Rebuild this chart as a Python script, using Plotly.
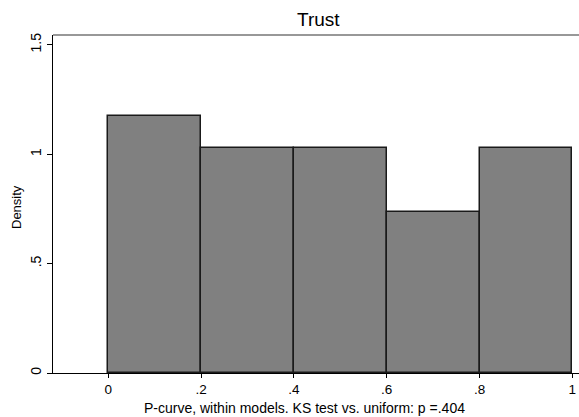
import plotly.graph_objects as go

bin_left = [0.0, 0.2, 0.4, 0.6, 0.8]
bin_width = 0.2
density = [1.176, 1.029, 1.029, 0.735, 1.029]
x_tickvals = [0, 0.2, 0.4, 0.6, 0.8, 1]
x_ticktext = ["0", ".2", ".4", ".6", ".8", "1"]
y_tickvals = [0, 0.5, 1, 1.5]
y_ticktext = ["0", ".5", "1", "1.5"]

fig = go.Figure()
fig.add_trace(go.Bar(
    x=[b + bin_width / 2 for b in bin_left],
    y=density,
    width=[bin_width] * len(bin_left),
    marker=dict(color="#808080", line=dict(color="#1a1a1a", width=1.5)),
    showlegend=False,
))

font = "Liberation Sans, Arial, sans-serif"
fig.update_layout(
    width=579, height=417,
    margin=dict(l=53, r=0, t=35, b=44),
    paper_bgcolor="white", plot_bgcolor="white",
    font=dict(family=font, color="black", size=14),
    bargap=0,
    xaxis=dict(range=[-0.1192, 1.0144], tickvals=x_tickvals, ticktext=x_ticktext,
               ticks="outside", ticklen=4, tickwidth=1, tickcolor="black",
               showline=True, linecolor="black", linewidth=1.2,
               showgrid=False, zeroline=False, tickfont=dict(size=13.5)),
    yaxis=dict(range=[0, 1.545], tickvals=y_tickvals, ticktext=y_ticktext,
               ticks="outside", ticklen=5, tickwidth=1, tickcolor="black",
               showline=True, linecolor="black", linewidth=1.2,
               showgrid=False, zeroline=False, tickangle=-90, tickfont=dict(size=14)),
    shapes=[dict(type="line", xref="paper", yref="paper", x0=0, x1=1, y0=1, y1=1,
                 line=dict(color="#333333", width=1.2))],
    annotations=[
        dict(text="Trust", xref="paper", yref="paper", x=(318 - 53) / 526, y=1,
             yshift=16, showarrow=False, font=dict(size=19), xanchor="center", yanchor="middle"),
        dict(text="P-curve, within models. KS test vs. uniform: p =.404", xref="paper", yref="paper",
             x=(304 - 53) / 526, y=0, yshift=-35, showarrow=False, font=dict(size=14),
             xanchor="center", yanchor="middle"),
        dict(text="Density", xref="paper", yref="paper", x=0, xshift=-36,
             y=(373 - 207) / 338, showarrow=False, font=dict(size=13), textangle=-90,
             xanchor="center", yanchor="middle"),
    ],
)

fig.write_html("out.html")
